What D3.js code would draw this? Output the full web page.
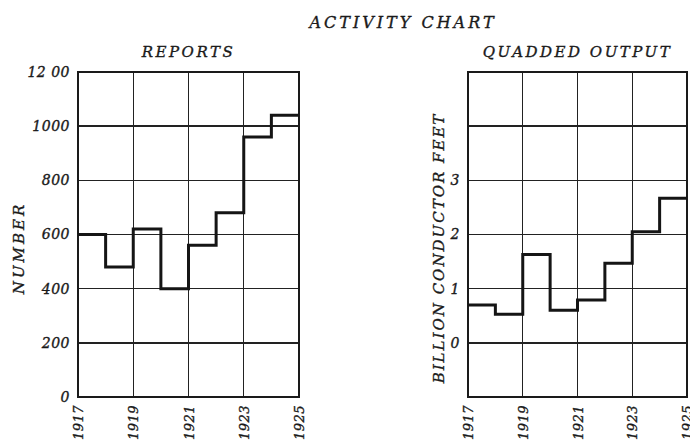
<!DOCTYPE html>
<html>
<head>
    <title>Activity Chart</title>
    <script src="https://d3js.org/d3.v7.min.js"></script>
    <style>
        body { margin: 0; background: #fff; }
        text {
            font-family: "DejaVu Serif", serif;
            font-style: italic;
            fill: #1a1a1a;
            stroke: #1a1a1a;
            stroke-width: 0.35px;
        }
        .grid line { stroke: #222; stroke-width: 1.4px; shape-rendering: crispEdges; }
        .frame { fill: none; stroke: #1a1a1a; stroke-width: 2px; }
        .step { fill: none; stroke: #151515; stroke-width: 3px; stroke-linejoin: miter; }
    </style>
</head>
<body>
<script>
    // Data
    var years = [1917, 1918, 1919, 1920, 1921, 1922, 1923, 1924];
    var reports = [600, 480, 620, 400, 560, 680, 960, 1040];
    var quadded = [0.70, 0.53, 1.63, 0.60, 0.79, 1.47, 2.05, 2.67];
    var yearTicks = [1917, 1919, 1921, 1923, 1925];
    var reportTicks = [0, 200, 400, 600, 800, 1000, 1200];
    var reportTickLabels = ["0", "200", "400", "600", "800", "1000", "12 00"];
    var quaddedGrid = [-1, 0, 1, 2, 3, 4, 5];
    var quaddedTicks = [0, 1, 2, 3];

    var svg = d3.select("body").append("svg")
        .attr("width", 690)
        .attr("height", 446);

    svg.append("text")
        .attr("x", 403).attr("y", 28)
        .attr("text-anchor", "middle")
        .style("font-size", "16px")
        .style("letter-spacing", "3px")
        .text("ACTIVITY CHART");

    function panel(opts) {
        var x = d3.scaleLinear().domain([1917, 1925]).range([opts.left, opts.right]);
        var y = d3.scaleLinear().domain(opts.yDomain).range([397, 72]);
        var g = svg.append("g");

        // panel title
        g.append("text")
            .attr("x", (opts.left + opts.right) / 2).attr("y", 57)
            .attr("text-anchor", "middle")
            .style("font-size", "15px")
            .style("letter-spacing", "2.5px")
            .text(opts.title);

        // grid
        var grid = g.append("g").attr("class", "grid");
        grid.selectAll(".h").data(opts.grid).enter().append("line")
            .attr("x1", opts.left).attr("x2", opts.right)
            .attr("y1", function(d) { return y(d); })
            .attr("y2", function(d) { return y(d); });
        grid.selectAll(".v").data(yearTicks).enter().append("line")
            .attr("y1", y.range()[0]).attr("y2", y.range()[1])
            .attr("x1", function(d) { return x(d); })
            .attr("x2", function(d) { return x(d); });

        g.append("rect").attr("class", "frame")
            .attr("x", opts.left).attr("y", y.range()[1])
            .attr("width", opts.right - opts.left)
            .attr("height", y.range()[0] - y.range()[1]);

        // step line
        var pts = years.map(function(yr, i) { return [yr, opts.values[i]]; });
        pts.push([1925, opts.values[opts.values.length - 1]]);
        var line = d3.line()
            .x(function(d) { return x(d[0]); })
            .y(function(d) { return y(d[1]); })
            .curve(d3.curveStepAfter);
        g.append("path").datum(pts).attr("class", "step").attr("d", line);

        // y tick labels
        g.selectAll(".yl").data(opts.ticks).enter().append("text")
            .attr("x", opts.left - 8)
            .attr("y", function(d) { return y(d); })
            .attr("dy", "0.35em")
            .attr("text-anchor", "end")
            .style("font-size", "14px")
            .style("letter-spacing", "0.5px")
            .text(function(d, i) { return opts.tickLabels[i]; });

        // x tick labels
        g.selectAll(".xl").data(yearTicks).enter().append("text")
            .attr("transform", function(d) {
                return "translate(" + (x(d) + 5) + ",405) rotate(-90)";
            })
            .attr("text-anchor", "end")
            .style("font-size", "13px")
            .style("letter-spacing", "0.5px")
            .text(function(d) { return d; });

        // y axis title
        g.append("text")
            .attr("transform", "translate(" + opts.titleX + ",248) rotate(-90)")
            .attr("text-anchor", "middle")
            .style("font-size", "15px")
            .style("letter-spacing", opts.titleSpacing)
            .text(opts.yTitle);
    }

    panel({
        left: 78, right: 299,
        yDomain: [0, 1200],
        grid: reportTicks,
        ticks: reportTicks,
        tickLabels: reportTickLabels,
        values: reports,
        title: "REPORTS",
        yTitle: "NUMBER",
        titleX: 24,
        titleSpacing: "3px"
    });

    panel({
        left: 468, right: 687,
        yDomain: [-1, 5],
        grid: quaddedGrid,
        ticks: quaddedTicks,
        tickLabels: quaddedTicks.map(String),
        values: quadded,
        title: "QUADDED OUTPUT",
        yTitle: "BILLION CONDUCTOR FEET",
        titleX: 444,
        titleSpacing: "2px"
    });
</script>
</body>
</html>
